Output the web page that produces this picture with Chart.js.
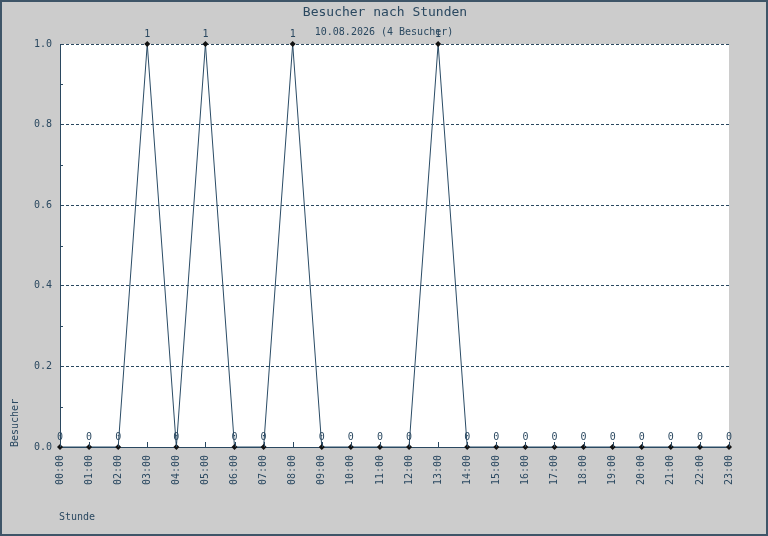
<!DOCTYPE html>
<html>
<head>
<meta charset="utf-8">
<script src="https://cdn.jsdelivr.net/npm/chart.js@4/dist/chart.umd.min.js"></script>
<style>
  html, body { margin: 0; padding: 0; background: #cccccc; }
  #wrap { width: 768px; height: 536px; }
</style>
</head>
<body>
<div id="wrap"><canvas id="chart" width="768" height="536"></canvas></div>
<script>
const hours = ['00:00','01:00','02:00','03:00','04:00','05:00','06:00','07:00','08:00','09:00','10:00','11:00',
  '12:00','13:00','14:00','15:00','16:00','17:00','18:00','19:00','20:00','21:00','22:00','23:00'];
const visitors = [0,0,0,1,0,1,0,0,1,0,0,0,0,1,0,0,0,0,0,0,0,0,0,0];
const yTicks = [0, 0.2, 0.4, 0.6, 0.8, 1.0];

const titleText = 'Besucher nach Stunden';
const subtitleText = '10.08.2026 (4 Besucher)';
const xTitle = 'Stunde';
const yTitle = 'Besucher';

const ink = '#2a4860';
const mono = '"DejaVu Sans Mono", "Liberation Mono", monospace';

// background, plot area, frame, titles, value labels, small ticks
const decor = {
  id: 'decor',
  beforeDraw(chart) {
    const { ctx, chartArea: a } = chart;
    ctx.save();
    ctx.fillStyle = '#cccccc';
    ctx.fillRect(0, 0, chart.width, chart.height);
    ctx.fillStyle = '#ffffff';
    ctx.fillRect(a.left, a.top, a.right - a.left, a.bottom - a.top);
    ctx.restore();
  },
  afterDraw(chart) {
    const { ctx, chartArea: a } = chart;
    const x = chart.scales.x, y = chart.scales.y;
    ctx.save();

    // outer frame
    ctx.strokeStyle = '#3e5568';
    ctx.lineWidth = 2;
    ctx.strokeRect(1, 1, chart.width - 2, chart.height - 2);

    // small ticks pointing into the plot
    ctx.strokeStyle = ink;
    ctx.lineWidth = 1;
    ctx.beginPath();
    hours.forEach((h, i) => {
      const px = Math.round(x.getPixelForValue(i)) + 0.5;
      ctx.moveTo(px, a.bottom);
      ctx.lineTo(px, a.bottom - 5);
    });
    for (let v = 0.1; v < 1; v += 0.2) {
      const py = Math.round(y.getPixelForValue(v)) + 0.5;
      ctx.moveTo(a.left, py);
      ctx.lineTo(a.left + 3, py);
    }
    ctx.stroke();

    // titles
    ctx.fillStyle = ink;
    ctx.textAlign = 'center';
    ctx.textBaseline = 'middle';
    ctx.font = '13px ' + mono;
    ctx.fillText(titleText, 385, 13);
    ctx.font = '10px ' + mono;
    ctx.fillText(subtitleText, 384, 32);

    ctx.textAlign = 'left';
    ctx.fillText(xTitle, 59, 517);

    ctx.save();
    ctx.translate(15, 447);
    ctx.rotate(-Math.PI / 2);
    ctx.textAlign = 'left';
    ctx.fillText(yTitle, 0, 0);
    ctx.restore();

    // value labels above the points
    const meta = chart.getDatasetMeta(0);
    ctx.textAlign = 'center';
    ctx.textBaseline = 'alphabetic';
    meta.data.forEach((pt, i) => {
      ctx.fillText(String(visitors[i]), pt.x, pt.y - 7);
    });
    ctx.restore();
  }
};

new Chart(document.getElementById('chart'), {
  type: 'line',
  data: {
    labels: hours,
    datasets: [{
      data: visitors,
      borderColor: '#2b4c66',
      borderWidth: 1,
      tension: 0,
      pointStyle: 'rectRot',
      pointRadius: 3,
      pointBackgroundColor: '#111111',
      pointBorderColor: '#111111',
      pointBorderWidth: 0,
      clip: false
    }]
  },
  options: {
    responsive: false,
    animation: false,
    devicePixelRatio: 1,
    layout: { padding: { left: 0, right: 39, top: 44, bottom: 0 } },
    plugins: {
      legend: { display: false },
      title: { display: false },
      tooltip: { enabled: false }
    },
    scales: {
      x: {
        type: 'category',
        offset: false,
        afterFit(scale) { scale.height = 89; },
        grid: { display: false, drawTicks: false },
        border: { display: true, color: ink, width: 1 },
        ticks: {
          autoSkip: false,
          minRotation: 90,
          maxRotation: 90,
          padding: 8,
          color: ink,
          font: { family: mono, size: 10 }
        }
      },
      y: {
        min: 0,
        max: 1,
        afterFit(scale) { scale.width = 60; },
        afterBuildTicks(scale) { scale.ticks = yTicks.map(v => ({ value: v })); },
        grid: {
          drawTicks: false,
          color: ctx => (ctx.tick && ctx.tick.value === 0 ? 'rgba(0,0,0,0)' : ink),
          lineWidth: 1
        },
        border: { display: true, color: ink, width: 1, dash: [3, 2] },
        ticks: {
          padding: 8,
          color: ink,
          font: { family: mono, size: 10 },
          callback: v => Number(v).toFixed(1)
        }
      }
    }
  },
  plugins: [decor]
});
</script>
</body>
</html>
